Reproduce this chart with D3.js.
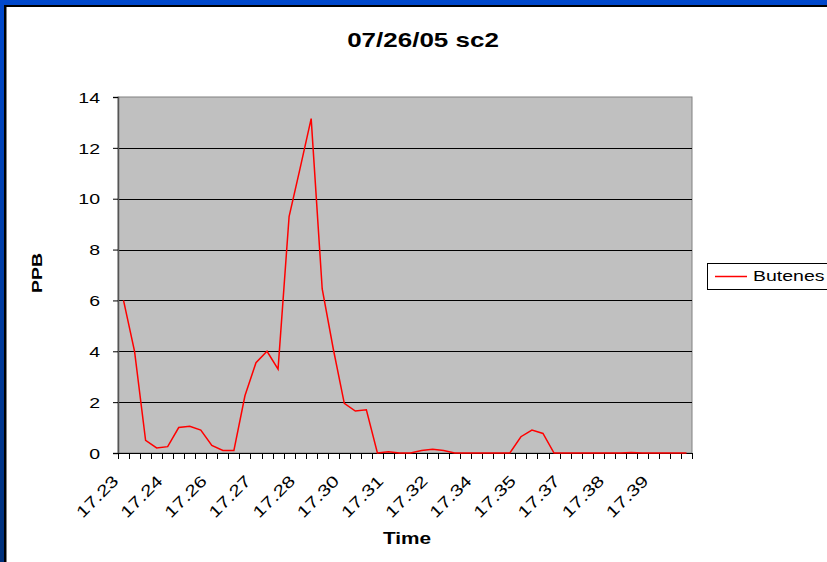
<!DOCTYPE html>
<html>
<head>
<meta charset="utf-8">
<script src="https://cdn.jsdelivr.net/npm/d3@7"></script>
<style>
  body { margin: 0; padding: 0; overflow: hidden; }
  svg { display: block; font-family: Arial, "Liberation Sans", sans-serif; }
</style>
</head>
<body>
<div id="chart"></div>
<script>
// values (PPB), one per time category
const butenes = [6.0, 4.0, 0.5, 0.2, 0.25, 1.0, 1.05, 0.9, 0.3, 0.1,
  0.1, 2.25, 3.55, 4.0, 3.3, 9.3, 11.2, 13.15, 6.45, 4.1,
  1.95, 1.65, 1.7, 0, 0.05, 0, 0, 0.1, 0.15, 0.1,
  0, 0, 0, 0, 0, 0, 0.64, 0.9, 0.77, 0,
  0, 0, 0, 0, 0, 0, 0.02, 0, 0, 0,
  0, 0];
// labels shown every 4th category
const timeLabels = ["17.23", "17.24", "17.26", "17.27", "17.28", "17.30", "17.31",
  "17.32", "17.34", "17.35", "17.37", "17.38", "17.39"];
const yTicks = [0, 2, 4, 6, 8, 10, 12, 14];
const seriesName = "Butenes";

const W = 827, H = 562;
const margin = {top: 97, left: 118, right: W - 692, bottom: H - 453};
const width = W - margin.left - margin.right,
      height = H - margin.top - margin.bottom;
const stretch = 1.3; // text in the picture is widened

const svg = d3.select("#chart").append("svg")
  .attr("width", W).attr("height", H);

// blue frame
const grad = svg.append("defs").append("linearGradient")
  .attr("id", "frame").attr("x1", 0).attr("y1", 0).attr("x2", 0).attr("y2", 1);
grad.append("stop").attr("offset", "0%").attr("stop-color", "#0048cc");
grad.append("stop").attr("offset", "100%").attr("stop-color", "#00307a");
svg.append("rect").attr("width", W).attr("height", H).attr("fill", "url(#frame)");
svg.append("rect").attr("x", 4).attr("y", 5).attr("width", W).attr("height", H)
  .attr("fill", "#000");
svg.append("rect").attr("x", 6.5).attr("y", 7).attr("width", W).attr("height", H)
  .attr("fill", "#fff");

const g = svg.append("g").attr("transform", `translate(${margin.left},${margin.top})`);

const idx = butenes.map((d, i) => i);
const x = d3.scaleBand().domain(idx).range([0, width]);
const y = d3.scaleLinear().domain([0, 14]).range([height, 0]);

// plot area
g.append("rect").attr("width", width).attr("height", height)
  .attr("fill", "#c0c0c0").attr("stroke", "#808080").attr("stroke-width", 1);

// gridlines
g.append("g").selectAll("line").data(yTicks.filter(t => t > 0 && t < 14)).join("line")
  .attr("x1", 0).attr("x2", width)
  .attr("y1", d => Math.round(y(d)) + 0.5).attr("y2", d => Math.round(y(d)) + 0.5)
  .attr("stroke", "#000");

// y axis
const yAxis = g.append("g")
  .call(d3.axisLeft(y).tickValues(yTicks).tickSize(5).tickFormat(d3.format("d")));
yAxis.select(".domain").attr("stroke", "#555").attr("stroke-width", 1.5);
yAxis.selectAll(".tick line").attr("stroke", "#000");
yAxis.selectAll("text")
  .attr("x", null).attr("dy", "0.35em")
  .attr("transform", `translate(-18,0) scale(${stretch},1)`)
  .attr("text-anchor", "end")
  .attr("font-size", 15).attr("fill", "#000")
  .attr("font-family", "Arial, 'Liberation Sans', sans-serif");

// x axis: ticks at category boundaries
const xg = g.append("g").attr("transform", `translate(0,${height})`);
xg.append("line").attr("x1", 0).attr("x2", width).attr("y1", 0.5).attr("y2", 0.5)
  .attr("stroke", "#000");
xg.selectAll(".tk").data(d3.range(butenes.length + 1)).join("line")
  .attr("class", "tk")
  .attr("x1", d => Math.round(d * x.bandwidth()) + 0.5)
  .attr("x2", d => Math.round(d * x.bandwidth()) + 0.5)
  .attr("y1", 0).attr("y2", 6)
  .attr("stroke", "#000");
xg.selectAll(".lbl").data(timeLabels).join("text")
  .attr("class", "lbl")
  .attr("transform", (d, i) => {
    const cx = x(i * 4) + x.bandwidth() / 2 - 4;
    return `translate(${cx},29) rotate(-45) scale(${stretch},1)`;
  })
  .attr("text-anchor", "end")
  .attr("font-size", 16)
  .text(d => d);

// line
const line = d3.line()
  .x((d, i) => x(i) + x.bandwidth() / 2)
  .y(d => y(d));
g.append("path").datum(butenes)
  .attr("fill", "none").attr("stroke", "#ff0000").attr("stroke-width", 1.5)
  .attr("d", line);

// titles
svg.append("text").attr("transform", `translate(423,47) scale(${stretch},1)`)
  .attr("text-anchor", "middle")
  .attr("font-size", 20).attr("font-weight", "bold").text("07/26/05 sc2");
svg.append("text").attr("transform", `translate(407,544) scale(${stretch},1)`)
  .attr("text-anchor", "middle")
  .attr("font-size", 16).attr("font-weight", "bold").text("Time");
svg.append("text").attr("transform", `translate(42,273) rotate(-90) scale(${stretch},1)`)
  .attr("text-anchor", "middle")
  .attr("font-size", 15).attr("font-weight", "bold").text("PPB");

// legend
const lg = svg.append("g").attr("transform", "translate(707,263)");
lg.append("rect").attr("x", 0.5).attr("y", 0.5).attr("width", 130).attr("height", 26)
  .attr("fill", "#fff").attr("stroke", "#000");
lg.append("line").attr("x1", 8).attr("x2", 40).attr("y1", 13.5).attr("y2", 13.5)
  .attr("stroke", "#ff0000").attr("stroke-width", 1.5);
lg.append("text").attr("transform", `translate(46,18) scale(${stretch},1)`)
  .attr("font-size", 15).text(seriesName);
</script>
</body>
</html>
